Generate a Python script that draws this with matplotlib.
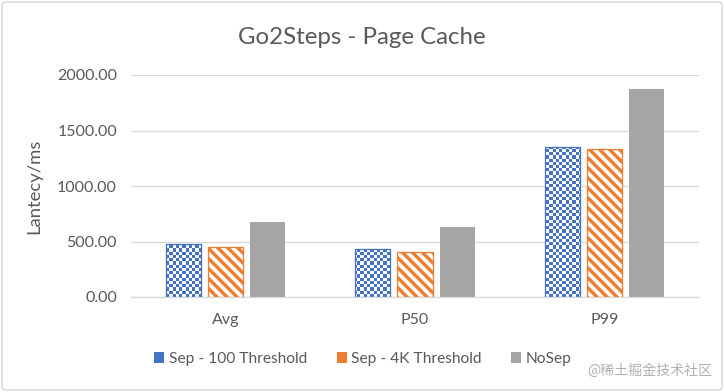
import numpy as np
import matplotlib
matplotlib.use("Agg")
import matplotlib.pyplot as plt
from matplotlib.patches import FancyBboxPatch, Patch
from matplotlib.colors import ListedColormap

categories = ["Avg", "P50", "P99"]
series_names = ["Sep - 100 Threshold", "Sep - 4K Threshold", "NoSep"]
sep100 = [475, 430, 1350]
sep4k = [452, 405, 1335]
nosep = [675, 630, 1870]
yticks = [0, 500, 1000, 1500, 2000]

BLUE = "#4472C4"
ORANGE = "#ED7D31"
GRAY = "#A5A5A5"
TXT = "#595959"
GRID = "#D9D9D9"

DPI = 60
W, H = 724, 392
PT = 72.0 / DPI  # points per pixel

plt.rcParams["font.family"] = ["Lato", "DejaVu Sans"]
plt.rcParams["hatch.linewidth"] = 3.4 * PT

fig = plt.figure(figsize=(W / DPI, H / DPI), dpi=DPI)
fig.patch.set_facecolor("white")

border = FancyBboxPatch((2 / W, 2 / H), 1 - 4 / W, 1 - 4 / H,
                        boxstyle="round,pad=0,rounding_size=0.006",
                        transform=fig.transFigure, facecolor="none",
                        edgecolor="#D0D0D0", linewidth=1.2 * PT, zorder=0)
fig.patches.append(border)

ax_l, ax_r, ax_b, ax_t = 131, 699, 297, 75
ax = fig.add_axes([ax_l / W, 1 - ax_b / H, (ax_r - ax_l) / W, (ax_b - ax_t) / H])
ax.set_facecolor("none")

x = np.arange(len(categories))
bw = 0.185
step = 0.222

ax.set_xlim(-0.5, len(categories) - 0.5)
ax.set_ylim(0, 2000)

# Blue checkerboard bars
b1 = ax.bar(x - step, sep100, width=bw, facecolor="none", edgecolor=BLUE,
            linewidth=1.3 * PT, zorder=3, label=series_names[0])
cell = 3.2
nx = int(round((ax_r - ax_l) / cell))
ny = int(round((ax_b - ax_t) / cell))
checker = (np.add.outer(np.arange(ny), np.arange(nx)) % 2).astype(float)
cmap = ListedColormap(["white", BLUE])
for rect in b1:
    im = ax.imshow(checker, extent=(-0.5, len(categories) - 0.5, 0, 2000),
                   origin="upper", aspect="auto", interpolation="nearest",
                   cmap=cmap, vmin=0, vmax=1, zorder=2)
    im.set_clip_path(rect)

# Orange striped bars
b2 = ax.bar(x, sep4k, width=bw, facecolor="white", edgecolor=ORANGE,
            hatch="\\\\", linewidth=1.3 * PT, zorder=3, label=series_names[1])

# Gray bars
b3 = ax.bar(x + step, nosep, width=bw, color=GRAY, zorder=3,
            label=series_names[2])

ax.set_xlim(-0.5, len(categories) - 0.5)
ax.set_ylim(0, 2000)
ax.set_yticks(yticks)
ax.set_yticklabels([f"{v:.2f}" for v in yticks])
ax.set_xticks(x)
ax.set_xticklabels(categories)
ax.grid(axis="y", color=GRID, linewidth=1.3 * PT, zorder=0)
ax.set_axisbelow(True)
for s in ["top", "right", "left"]:
    ax.spines[s].set_visible(False)
ax.spines["bottom"].set_color(GRID)
ax.spines["bottom"].set_linewidth(1.3 * PT)
ax.tick_params(axis="both", length=0, colors=TXT, labelsize=16 * PT)
ax.tick_params(axis="y", pad=14 * PT)
ax.tick_params(axis="x", pad=16 * PT)

ax.set_ylabel("Lantecy/ms", fontsize=18.5 * PT, color=TXT)
ax.yaxis.set_label_coords(-(ax_l - 42) / (ax_r - ax_l), 0.5)

fig.text(0.5, 1 - 37 / H, "Go2Steps - Page Cache", ha="center", va="center",
         fontsize=24 * PT, color=TXT)

h1 = Patch(facecolor=BLUE, edgecolor=BLUE, linewidth=0)
h2 = Patch(facecolor=ORANGE, edgecolor=ORANGE, linewidth=0)
h3 = Patch(facecolor=GRAY, edgecolor=GRAY, linewidth=0)
leg = fig.legend([h1, h2, h3], series_names, loc="center",
                 bbox_to_anchor=(363 / W, 1 - 359 / H), ncol=3, frameon=False,
                 fontsize=15.5 * PT, handlelength=0.65, handleheight=0.65,
                 handletextpad=0.3, columnspacing=1.9)
for t in leg.get_texts():
    t.set_color(TXT)

fig.text(712 / W, 1 - 371 / H, "@稀土掘金技术社区", ha="right", va="center",
         fontsize=14 * PT, color="#A8A8A8", alpha=0.9,
         family=["Noto Sans CJK SC", "DejaVu Sans"])

fig.savefig("out.png", dpi=DPI)
